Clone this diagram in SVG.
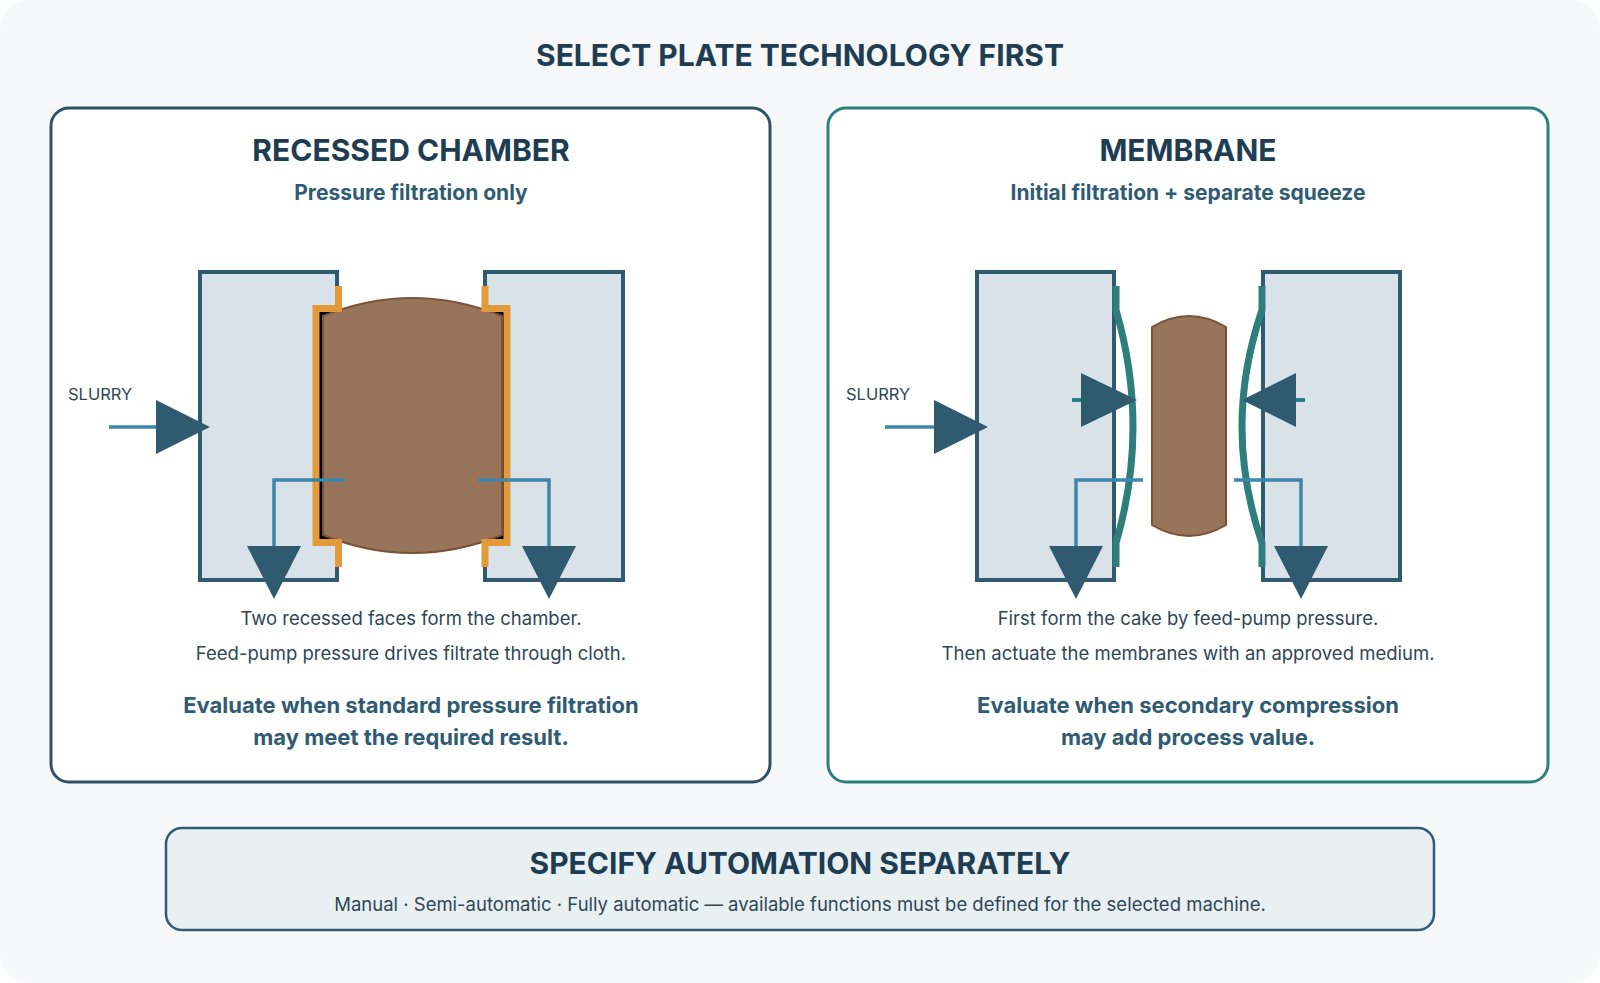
<svg xmlns="http://www.w3.org/2000/svg" width="1600" height="983" viewBox="0 0 1600 983">
<style>
text{font-family:Inter,"Liberation Sans",Arial,sans-serif;text-anchor:middle}
.h1{font-size:30px;font-weight:bold;fill:#1f3d52}
.sub{font-size:21px;font-weight:bold;fill:#2f5b73}
.desc{font-size:18.5px;fill:#2f4656}
.ev{font-size:22px;font-weight:bold;fill:#2f5b73}
.plate{fill:#d9e2e8;stroke:#2f5a70;stroke-width:4}
.drain{fill:none;stroke:#3d87a8;stroke-width:3.5}
.head{fill:#305a70}
.cake{fill:#98755a;stroke:#7a5238;stroke-width:2}
.orange{fill:none;stroke:#e29a3a;stroke-width:7}
.mem{fill:none;stroke:#2e7f7c;stroke-width:7}
.sl{font-size:16.5px;fill:#2f4656;text-anchor:start}
</style>
<rect x="0" y="0" width="1600" height="983" rx="30" fill="#f5f7f8"/>
<text x="800" y="66" class="h1">SELECT PLATE TECHNOLOGY FIRST</text>
<g id="recessed">
<rect x="51" y="108" width="719" height="674" rx="18" fill="#fff" stroke="#2f5266" stroke-width="3"/>
<text x="411" y="161" class="h1">RECESSED CHAMBER</text>
<text x="411" y="200" class="sub">Pressure filtration only</text>
<rect x="200" y="272" width="137" height="308" class="plate"/>
<rect x="485" y="272" width="138" height="308" class="plate"/>
<rect x="319" y="312" width="185" height="227" fill="#000"/>
<path d="M323,316 Q412,280 502,316 V535 Q412,571 323,535 Z" class="cake"/>
<path d="M338.5,286 V308.5 H316 V542.5 H338.5 V567" class="orange"/>
<path d="M485,286 V308.5 H507 V542.5 H485 V567" class="orange"/>
<text x="68" y="400" class="sl">SLURRY</text>
<text x="411" y="625" class="desc">Two recessed faces form the chamber.</text>
<text x="411" y="660" class="desc">Feed-pump pressure drives filtrate through cloth.</text>
<text x="411" y="713" class="ev">Evaluate when standard pressure filtration</text>
<text x="411" y="745" class="ev">may meet the required result.</text>
</g>
<g id="membrane">
<rect x="828" y="108" width="720" height="674" rx="18" fill="#fff" stroke="#2e7f7c" stroke-width="3"/>
<text x="1188" y="161" class="h1">MEMBRANE</text>
<text x="1188" y="200" class="sub">Initial filtration + separate squeeze</text>
<rect x="977" y="272" width="137" height="308" class="plate"/>
<rect x="1263" y="272" width="137" height="308" class="plate"/>
<path d="M1152,327 Q1189,305 1226,327 V525 Q1189,547 1152,525 Z" class="cake"/>
<path d="M1116,286 V310 Q1150,427 1116,543 V567" class="mem"/>
<path d="M1262,286 V310 Q1222,427 1262,543 V567" class="mem"/>
<text x="846" y="400" class="sl">SLURRY</text>
<text x="1188" y="625" class="desc">First form the cake by feed-pump pressure.</text>
<text x="1188" y="660" class="desc">Then actuate the membranes with an approved medium.</text>
<text x="1188" y="713" class="ev">Evaluate when secondary compression</text>
<text x="1188" y="745" class="ev">may add process value.</text>
</g>
<g id="automation">
<rect x="166" y="828" width="1268" height="102" rx="16" fill="#e8f0f2" stroke="#2f5b73" stroke-width="2.5"/>
<text x="800" y="874" class="h1">SPECIFY AUTOMATION SEPARATELY</text>
<text x="800" y="911" class="desc">Manual · Semi-automatic · Fully automatic — available functions must be defined for the selected machine.</text>
</g>
<g id="connectors">
<path d="M109,427 H165" class="drain"/>
<polygon points="156,400 210,427 156,454" class="head"/>
<path d="M345,480 H274 V550" class="drain"/>
<polygon points="247,546 301,546 274,599" class="head"/>
<path d="M478,480 H549 V550" class="drain"/>
<polygon points="522,546 576,546 549,599" class="head"/>
<path d="M885,427 H940" class="drain"/>
<polygon points="934,400 988,427 934,454" class="head"/>
<path d="M1143,480 H1076 V550" class="drain"/>
<polygon points="1049,546 1103,546 1076,599" class="head"/>
<path d="M1234,480 H1301 V550" class="drain"/>
<polygon points="1274,546 1328,546 1301,599" class="head"/>
<path d="M1072,400 H1090" stroke="#2e7f7c" stroke-width="4"/>
<polygon points="1081,373 1137,400 1081,427" class="head"/>
<path d="M1288,400 H1305" stroke="#2e7f7c" stroke-width="4"/>
<polygon points="1296,373 1242,400 1296,427" class="head"/>
</g>
</svg>
